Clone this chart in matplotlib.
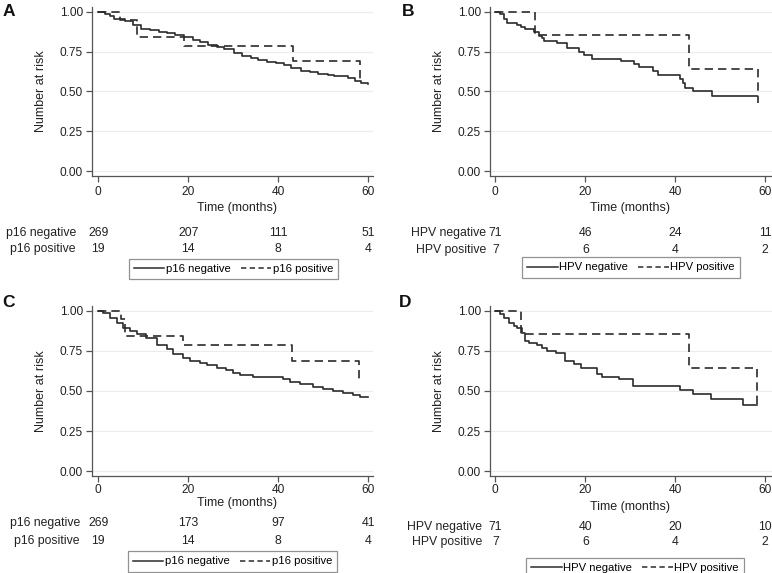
import matplotlib
matplotlib.use("Agg")
import matplotlib.pyplot as plt
from matplotlib.lines import Line2D
from matplotlib.transforms import blended_transform_factory

plt.rcParams['font.family'] = ['Liberation Sans', 'DejaVu Sans']

W, H = 772, 573

# ---------------- data ----------------
A_neg_t = [0, 1.5, 2.6, 3.4, 6.0, 7.8, 9.5, 11.5, 13.5, 15.3, 17, 19, 21, 22.7, 24.5, 26.5, 28, 30.2,
           32, 33.9, 35.5, 37.6, 39.5, 41.4, 42.8, 45.1, 47, 48.8, 51, 52.5, 55.5, 57, 58.5, 60]
A_neg_s = [1.0, 0.99, 0.975, 0.955, 0.94, 0.915, 0.895, 0.885, 0.875, 0.865, 0.855, 0.84, 0.825, 0.81,
           0.795, 0.78, 0.765, 0.745, 0.725, 0.71, 0.697, 0.687, 0.677, 0.666, 0.645, 0.63, 0.622, 0.613,
           0.605, 0.597, 0.585, 0.567, 0.555, 0.55]
A_pos_t = [0, 4.8, 8.5, 19, 43.4, 58.3]
A_pos_s = [1.0, 0.947, 0.842, 0.789, 0.691, 0.575]

B_neg_t = [0, 1.1, 1.9, 2.6, 4.8, 5.6, 6.7, 8.6, 9.7, 10.3, 10.8, 13.8, 16, 18.6, 19.7, 21.6, 27.9,
           30.9, 32, 35, 36.1, 41, 41.7, 42.1, 44, 48.1, 58.1]
B_neg_s = [1.0, 0.986, 0.958, 0.93, 0.918, 0.904, 0.89, 0.875, 0.848, 0.834, 0.82, 0.806, 0.776,
           0.746, 0.731, 0.706, 0.69, 0.674, 0.652, 0.63, 0.604, 0.58, 0.555, 0.525, 0.50, 0.472, 0.472]
B_pos_t = [0, 8.9, 43.1, 58.3]
B_pos_s = [1.0, 0.857, 0.643, 0.429]

C_neg_t = [0, 1.1, 2.6, 4.1, 5.6, 7.0, 8.5, 10.7, 13, 15.2, 16.7, 18.9, 20.4, 22.6, 24.1, 26.3, 28.5,
           30, 31.5, 34.4, 41.1, 42.6, 44.8, 47.8, 50, 52.2, 54.4, 56.7, 58.1, 60]
C_neg_s = [1.0, 0.985, 0.958, 0.927, 0.896, 0.875, 0.854, 0.829, 0.79, 0.76, 0.733, 0.704, 0.688,
           0.677, 0.663, 0.646, 0.629, 0.615, 0.598, 0.588, 0.573, 0.558, 0.542, 0.525, 0.51, 0.50,
           0.49, 0.475, 0.465, 0.462]
C_pos_t = [0, 5.0, 6.0, 18.9, 43.1, 57.9]
C_pos_s = [1.0, 0.947, 0.842, 0.789, 0.69, 0.552]

D_neg_t = [0, 1.1, 1.9, 3.0, 4.1, 4.8, 6.0, 6.7, 7.5, 9.3, 10.4, 11.5, 13.4, 15.6, 17.5, 19, 22.7,
           23.8, 27.6, 30.6, 41, 44, 48, 55.1, 58.1]
D_neg_s = [1.0, 0.979, 0.954, 0.927, 0.906, 0.892, 0.865, 0.8125, 0.802, 0.785, 0.771, 0.75, 0.74,
           0.6875, 0.667, 0.642, 0.608, 0.59, 0.573, 0.531, 0.506, 0.479, 0.448, 0.4125, 0.4125]
D_pos_t = [0, 5.8, 43.0, 58.1]
D_pos_s = [1.0, 0.857, 0.643, 0.42]

risk_times = [0, 20, 40, 60]
A_risk_neg = [269, 207, 111, 51]
A_risk_pos = [19, 14, 8, 4]
B_risk_neg = [71, 46, 24, 11]
B_risk_pos = [7, 6, 4, 2]
C_risk_neg = [269, 173, 97, 41]
C_risk_pos = [19, 14, 8, 4]
D_risk_neg = [71, 40, 20, 10]
D_risk_pos = [7, 6, 4, 2]

yticks = [0.0, 0.25, 0.5, 0.75, 1.0]
ytick_labels = ['0.00', '0.25', '0.50', '0.75', '1.00']
xticks = [0, 20, 40, 60]

# ---------------- layout ----------------
fig = plt.figure(figsize=(W / 100, H / 100), dpi=100)

LINE = '#2b2b2b'
AX = '#555555'

panels = [
    dict(letter='A', rect=(92, 373, 7, 176), xlim=(-1.4, 61.1), neg=(A_neg_t, A_neg_s), pos=(A_pos_t, A_pos_s),
         risk=(A_risk_neg, A_risk_pos), names=('p16 negative', 'p16 positive'),
         letter_xy=(3, 4), xlab_y=208, rows=(233, 249), lab_right=76, leg=(233.5, 269),
         xlab_x=237, ylab_x=41, pad=3.5),
    dict(letter='B', rect=(490, 772, 7, 176), xlim=(-1.18, 61.5), neg=(B_neg_t, B_neg_s), pos=(B_pos_t, B_pos_s),
         risk=(B_risk_neg, B_risk_pos), names=('HPV negative', 'HPV positive'),
         letter_xy=(402, 4), xlab_y=208, rows=(233, 250), lab_right=486, leg=(631, 267.5),
         xlab_x=630, ylab_x=439, pad=3.5),
    dict(letter='C', rect=(92, 373, 306, 476), xlim=(-1.4, 61.1), neg=(C_neg_t, C_neg_s), pos=(C_pos_t, C_pos_s),
         risk=(C_risk_neg, C_risk_pos), names=('p16 negative', 'p16 positive'),
         letter_xy=(2, 295), xlab_y=503, rows=(523, 541), lab_right=80, leg=(232.5, 561.5),
         xlab_x=237, ylab_x=41, pad=1.5),
    dict(letter='D', rect=(490, 772, 306, 476), xlim=(-1.18, 61.5), neg=(D_neg_t, D_neg_s), pos=(D_pos_t, D_pos_s),
         risk=(D_risk_neg, D_risk_pos), names=('HPV negative', 'HPV positive'),
         letter_xy=(399, 295), xlab_y=507, rows=(527, 542), lab_right=482, leg=(635, 568),
         xlab_x=630, ylab_x=439, pad=1.8),
]

for p in panels:
    l, r, t, b = p['rect']
    ax = fig.add_axes([l / W, 1 - b / H, (r - l) / W, (b - t) / H])
    ax.set_xlim(*p['xlim'])
    ax.set_ylim(-0.031, 1.031)
    for s in ['top', 'right']:
        ax.spines[s].set_visible(False)
    for s in ['left', 'bottom']:
        ax.spines[s].set_color(AX)
        ax.spines[s].set_linewidth(0.9)
    ax.set_yticks(yticks)
    ax.set_yticklabels(ytick_labels)
    ax.set_xticks(xticks)
    ax.tick_params(axis='both', direction='out', length=4, width=0.9, color=AX,
                   labelsize=8.6, labelcolor='#222222')
    ax.tick_params(axis='x', pad=p['pad'])
    ax.tick_params(axis='y', pad=2.5)
    ax.yaxis.grid(True, color='#ececec', linewidth=0.8)
    ax.set_axisbelow(True)

    ax.step(p['neg'][0], p['neg'][1], where='post', color=LINE, lw=1.2, label=p['names'][0])
    ax.step(p['pos'][0], p['pos'][1], where='post', color=LINE, lw=1.2, dashes=(5, 3),
            label=p['names'][1])

    ax.set_ylabel('Number at risk', fontsize=9, color='#222222')
    ax.yaxis.set_label_coords((p['ylab_x'] - l) / (r - l), 0.5)
    ax.yaxis.label.set_va('center')
    ax.set_xlabel('Time (months)', fontsize=9, color='#222222')
    ax.xaxis.set_label_coords((p['xlab_x'] - l) / (r - l), (b - p['xlab_y']) / (b - t))
    ax.xaxis.label.set_va('center')

    fig.text(p['letter_xy'][0] / W, 1 - p['letter_xy'][1] / H, p['letter'], fontsize=12.5,
             fontweight='bold', ha='left', va='top', color='#111111')

    tr = blended_transform_factory(ax.transData, fig.transFigure)
    for row_y, name, vals in zip(p['rows'], p['names'], p['risk']):
        fig.text(p['lab_right'] / W, 1 - row_y / H, name, fontsize=8.8, ha='right', va='center',
                 color='#222222')
        for xt, v in zip(risk_times, vals):
            ax.text(xt, 1 - row_y / H, str(v), transform=tr, fontsize=8.8, ha='center',
                    va='center', color='#222222', clip_on=False)

    handles = [Line2D([], [], color=LINE, lw=1.1),
               Line2D([], [], color=LINE, lw=1.1, dashes=(3.5, 2.2))]
    leg = fig.legend(handles, list(p['names']), loc='center',
                     bbox_to_anchor=(p['leg'][0] / W, 1 - p['leg'][1] / H), ncol=2,
                     fontsize=8.1, frameon=True, fancybox=False, handlelength=2.7,
                     handletextpad=0.15, columnspacing=0.9, borderpad=0.45)
    leg.get_frame().set_edgecolor('#777777')
    leg.get_frame().set_linewidth(0.9)

fig.savefig('out.png', dpi=100)
